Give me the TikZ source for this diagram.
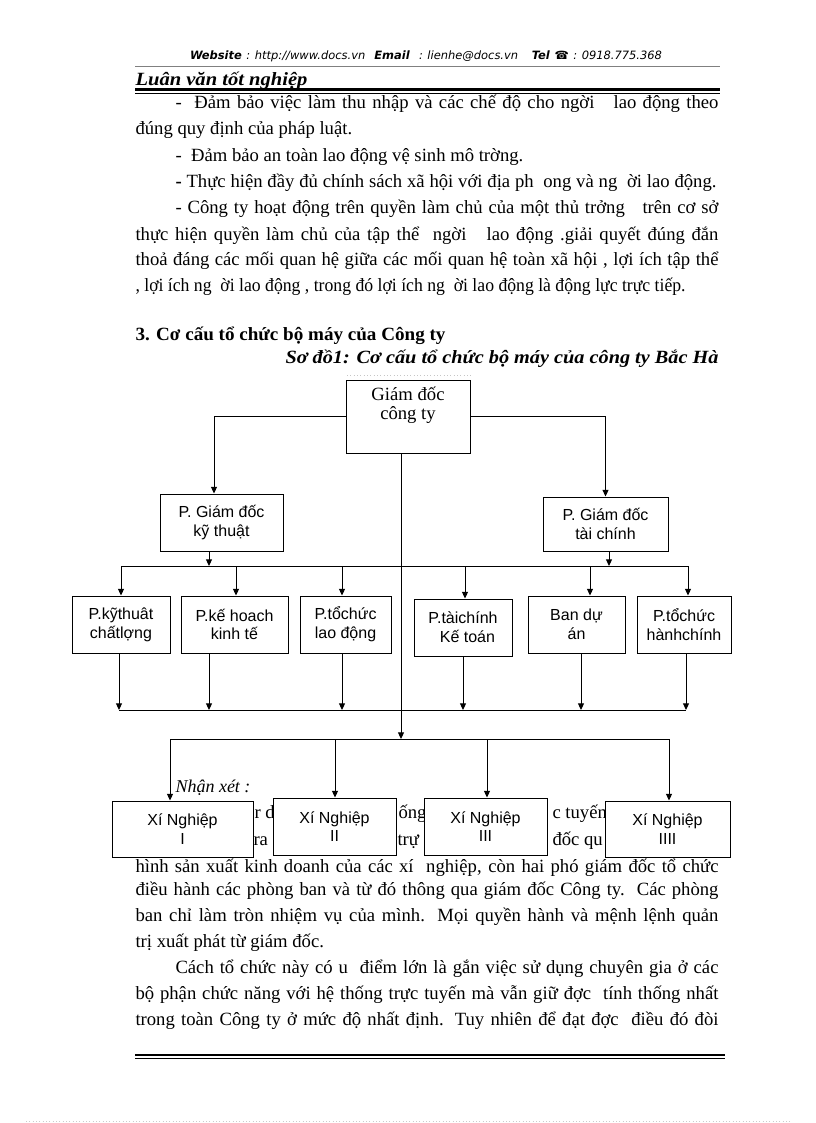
\documentclass[tikz,border=0pt]{standalone}
\usepackage{fontspec}
\usepackage{graphicx}
\setmainfont{Liberation Serif}
\newfontfamily\arialf{Liberation Sans}
\newfontfamily\dejavuf{DejaVu Sans}
\usetikzlibrary{arrows.meta,calc}
\newsavebox\jbox
\newcommand\jline[2]{\sbox\jbox{#2}\ifdim\wd\jbox<#1\relax\makebox[#1][s]{#2}\else\resizebox{#1}{\height}{\usebox\jbox}\fi}
\newcommand\sline[2]{\resizebox{#1}{\height}{#2}}
\begin{document}
\begin{tikzpicture}[x=0.75pt,y=-0.75pt,line width=0.75pt,
  body/.style={anchor=base west,inner sep=0pt,font=\fontsize{14}{16}\selectfont},
  box/.style={draw,fill=white,inner sep=0pt,align=center,font=\arialf\fontsize{12}{14}\selectfont},
  arr/.style={-{Triangle[length=5pt,width=4.5pt]}}]
\useasboundingbox (0,0) rectangle (816,1123);
\fill[white] (0,0) rectangle (816,1123);

% ---------- header ----------
\node[anchor=base,inner sep=0pt,font=\dejavuf\fontsize{8.6}{10}\selectfont] (hdr) at (426,60)
  {\jline{354pt}{\textbf{\textit{Website}}\textit{\ :\ http://www.docs.vn}\ \ \textbf{\textit{Email}}\textit{\ \ :\ lienhe@docs.vn}\ \ \ \textbf{\textit{Tel}}\ \textbf{☎}\textit{\ :\ 0918.775.368}}};
\draw[gray,line width=0.6pt] (135,66) -- (720,66);
\begin{scope}
\clip (130,67) rectangle (420,88.5);
\node[body,font=\fontsize{14}{15}\selectfont\bfseries\itshape] (lv) at (135,86) {\sline{129pt}{Luân văn tốt nghiệp}};
\end{scope}
\draw[line width=1.6pt] (135,89.5) -- (720,89.5);
\draw[line width=0.7pt] (135,93) -- (720,93);

% ---------- body text (top) ----------
\node[body] (l1) at (175,109) {\jline{407.25pt}{-\ \ Đảm bảo việc làm thu nhập và các chế độ cho ngời\ \ \ lao động theo}};
\node[body] (l2) at (135,135) {đúng quy định của pháp luật.};
\node[body] (l3) at (175,162) {-\ \ Đảm bảo an toàn lao động vệ sinh mô trờng.};
\node[body] (l4) at (175,188) {\jline{405.75pt}{\textbf{-} Thực hiện đầy đủ chính sách xã hội với địa ph\ \ ong và ng\ \ ời lao động.}};
\node[body] (l5) at (175,214) {\jline{407.25pt}{- Công ty hoạt động trên quyền làm chủ của một thủ trởng\ \ \ trên cơ sở}};
\node[body] (l6) at (135,240) {\jline{437.25pt}{thực hiện quyền làm chủ của tập thể\ \ ngời\ \ \ lao động .giải quyết đúng đắn}};
\node[body] (l7) at (135,265) {\jline{437.25pt}{thoả đáng các mối quan hệ giữa các mối quan hệ toàn xã hội , lợi ích tập thể}};
\node[body] (l8) at (135,291) {\sline{412.5pt}{, lợi ích ng\ \ ời lao động , trong đó lợi ích ng\ \ ời lao động là động lực trực tiếp.}};

\node[body,font=\fontsize{14}{15}\selectfont\bfseries] (h3) at (135,340) {\sline{232.5pt}{3. Cơ cấu tổ chức bộ máy của Công ty}};
\node[body,font=\fontsize{14}{15}\selectfont\bfseries\itshape] (cap) at (285,363) {\sline{324.75pt}{Sơ đồ1: Cơ cấu tổ chức bộ máy của công ty Bắc Hà}};
\draw[gray!45,dotted,line width=0.5pt] (347,375) -- (472,375);

% ---------- text behind the lower boxes ----------
\node[body,font=\fontsize{13.5}{15}\selectfont\itshape] (nx) at (175,792) {Nhận xét :};
\node[body] (f1) at (254,818) {r d};
\node[body] (f2) at (398,818) {ống};
\node[body] (f3) at (552,818) {c tuyến};
\node[body] (f4) at (253,845) {ra};
\node[body] (f5) at (397,845) {trự};
\node[body] (f6) at (552,845) {đốc qu};

% ---------- body text (bottom) ----------
\node[body] (p1) at (135,872) {\jline{437.25pt}{hình sản xuất kinh doanh của các xí\ \ nghiệp, còn hai phó giám đốc tổ chức}};
\node[body] (p2) at (135,895) {\jline{437.25pt}{điều hành các phòng ban và từ đó thông qua giám đốc Công ty.\ \ Các phòng}};
\node[body] (p3) at (135,921) {\jline{437.25pt}{ban chỉ làm tròn nhiệm vụ của mình. Mọi quyền hành và mệnh lệnh quản}};
\node[body] (p4) at (135,947) {trị xuất phát từ giám đốc.};
\node[body] (p5) at (175,973) {\jline{407.25pt}{Cách tổ chức này có u\ \ điểm lớn là gắn việc sử dụng chuyên gia ở các}};
\node[body] (p6) at (135,999) {\jline{437.25pt}{bộ phận chức năng với hệ thống trực tuyến mà vẫn giữ đợc\ \ tính thống nhất}};
\node[body] (p7) at (135,1025) {\jline{437.25pt}{trong toàn Công ty ở mức độ nhất định. Tuy nhiên để đạt đợc\ \ điều đó đòi}};

\draw[line width=0.9pt] (135,1055) -- (725,1055);
\draw[line width=1.2pt] (135,1058.5) -- (725,1058.5);
\draw[gray!40,dotted,line width=0.5pt] (26,1121) -- (792,1121);

% ---------- diagram ----------
\node[box,minimum width=93pt,minimum height=54.75pt] (gd) at (408,416.5) {};
\node[inner sep=0pt,align=center,font=\fontsize{14}{14.5}\selectfont] (gdt) at (408,405) {Giám đốc\\công ty};

\node[box,minimum width=92.25pt,minimum height=42.75pt] (pkt) at (221.5,522.5) {P. Giám đốc\\kỹ thuật};
\node[box,minimum width=93.75pt,minimum height=40.5pt] (ptc) at (605.5,524) {P. Giám đốc\\tài chính};

\node[box,minimum width=73.5pt,minimum height=42.75pt] (b1) at (121,624.5) {P.kỹthuât\\chấtlợng};
\node[box,minimum width=80.25pt,minimum height=42.75pt] (b2) at (234.5,624.5) {P.kế hoach\\kinh tế};
\node[box,minimum width=68.25pt,minimum height=42.75pt] (b3) at (345.5,624.5) {P.tổchức\\lao động};
\node[box,minimum width=73.5pt,minimum height=42.75pt] (b4) at (463,627.5) {P.tàichính\\\ \ Kế toán};
\node[box,minimum width=72.75pt,minimum height=42.75pt] (b5) at (576.5,624.5) {Ban dự\\án};
\node[box,minimum width=70.5pt,minimum height=42.75pt] (b6) at (684,624.5) {P.tổchức\\hànhchính};

\node[box,minimum width=105.75pt,minimum height=42pt] (x1) at (182.5,829) {Xí Nghiệp\\I};
\node[box,minimum width=92.25pt,minimum height=42.75pt] (x2) at (334.5,826.5) {Xí Nghiệp\\II};
\node[box,minimum width=92.25pt,minimum height=42.75pt] (x3) at (485.5,826.5) {Xí Nghiệp\\III};
\node[box,minimum width=93.75pt,minimum height=42pt] (x4) at (667.5,829) {Xí Nghiệp\\IIII};

% top connectors
\draw[arr] (gd.west) -| ($(pkt.north)+(-7.5,0)$);
\draw[arr] (gd.east) -| (ptc.north);

% collector 1
\coordinate (c1L) at (121,566);
\coordinate (c1R) at (688,566);
\draw (c1L) -- (c1R);
\draw[arr] ($(pkt.south)+(-12.5,0)$) coordinate (q1) -- (q1 |- c1L);
\draw[arr] ($(ptc.south)+(3.5,0)$) coordinate (q2) -- (q2 |- c1L);
\foreach \b/\xx in {b1/121,b2/236,b3/342,b4/465,b5/590,b6/688}{
  \coordinate (t\b) at (\xx,566);
  \draw[arr] (t\b) -- (t\b |- \b.north);
}
% collector 2
\coordinate (c2L) at (119,710);
\coordinate (c2R) at (686,710);
\draw (c2L) -- (c2R);
\foreach \b/\xx in {b1/119,b2/209,b3/342,b4/463,b5/581,b6/686}{
  \coordinate (s\b) at (\xx,710);
  \draw[arr] (s\b |- \b.south) -- (s\b);
}
% centre trunk
\coordinate (c3L) at (170,739);
\coordinate (c3R) at (669,739);
\draw[arr] ($(gd.south)+(-7,0)$) coordinate (q3) -- (q3 |- c3L);
\draw (c3L) -- (c3R);
\foreach \b/\xx in {x1/170,x2/335,x3/487,x4/669}{
  \coordinate (u\b) at (\xx,739);
  \draw[arr] (u\b) -- (u\b |- \b.north);
}
\end{tikzpicture}
\end{document}
